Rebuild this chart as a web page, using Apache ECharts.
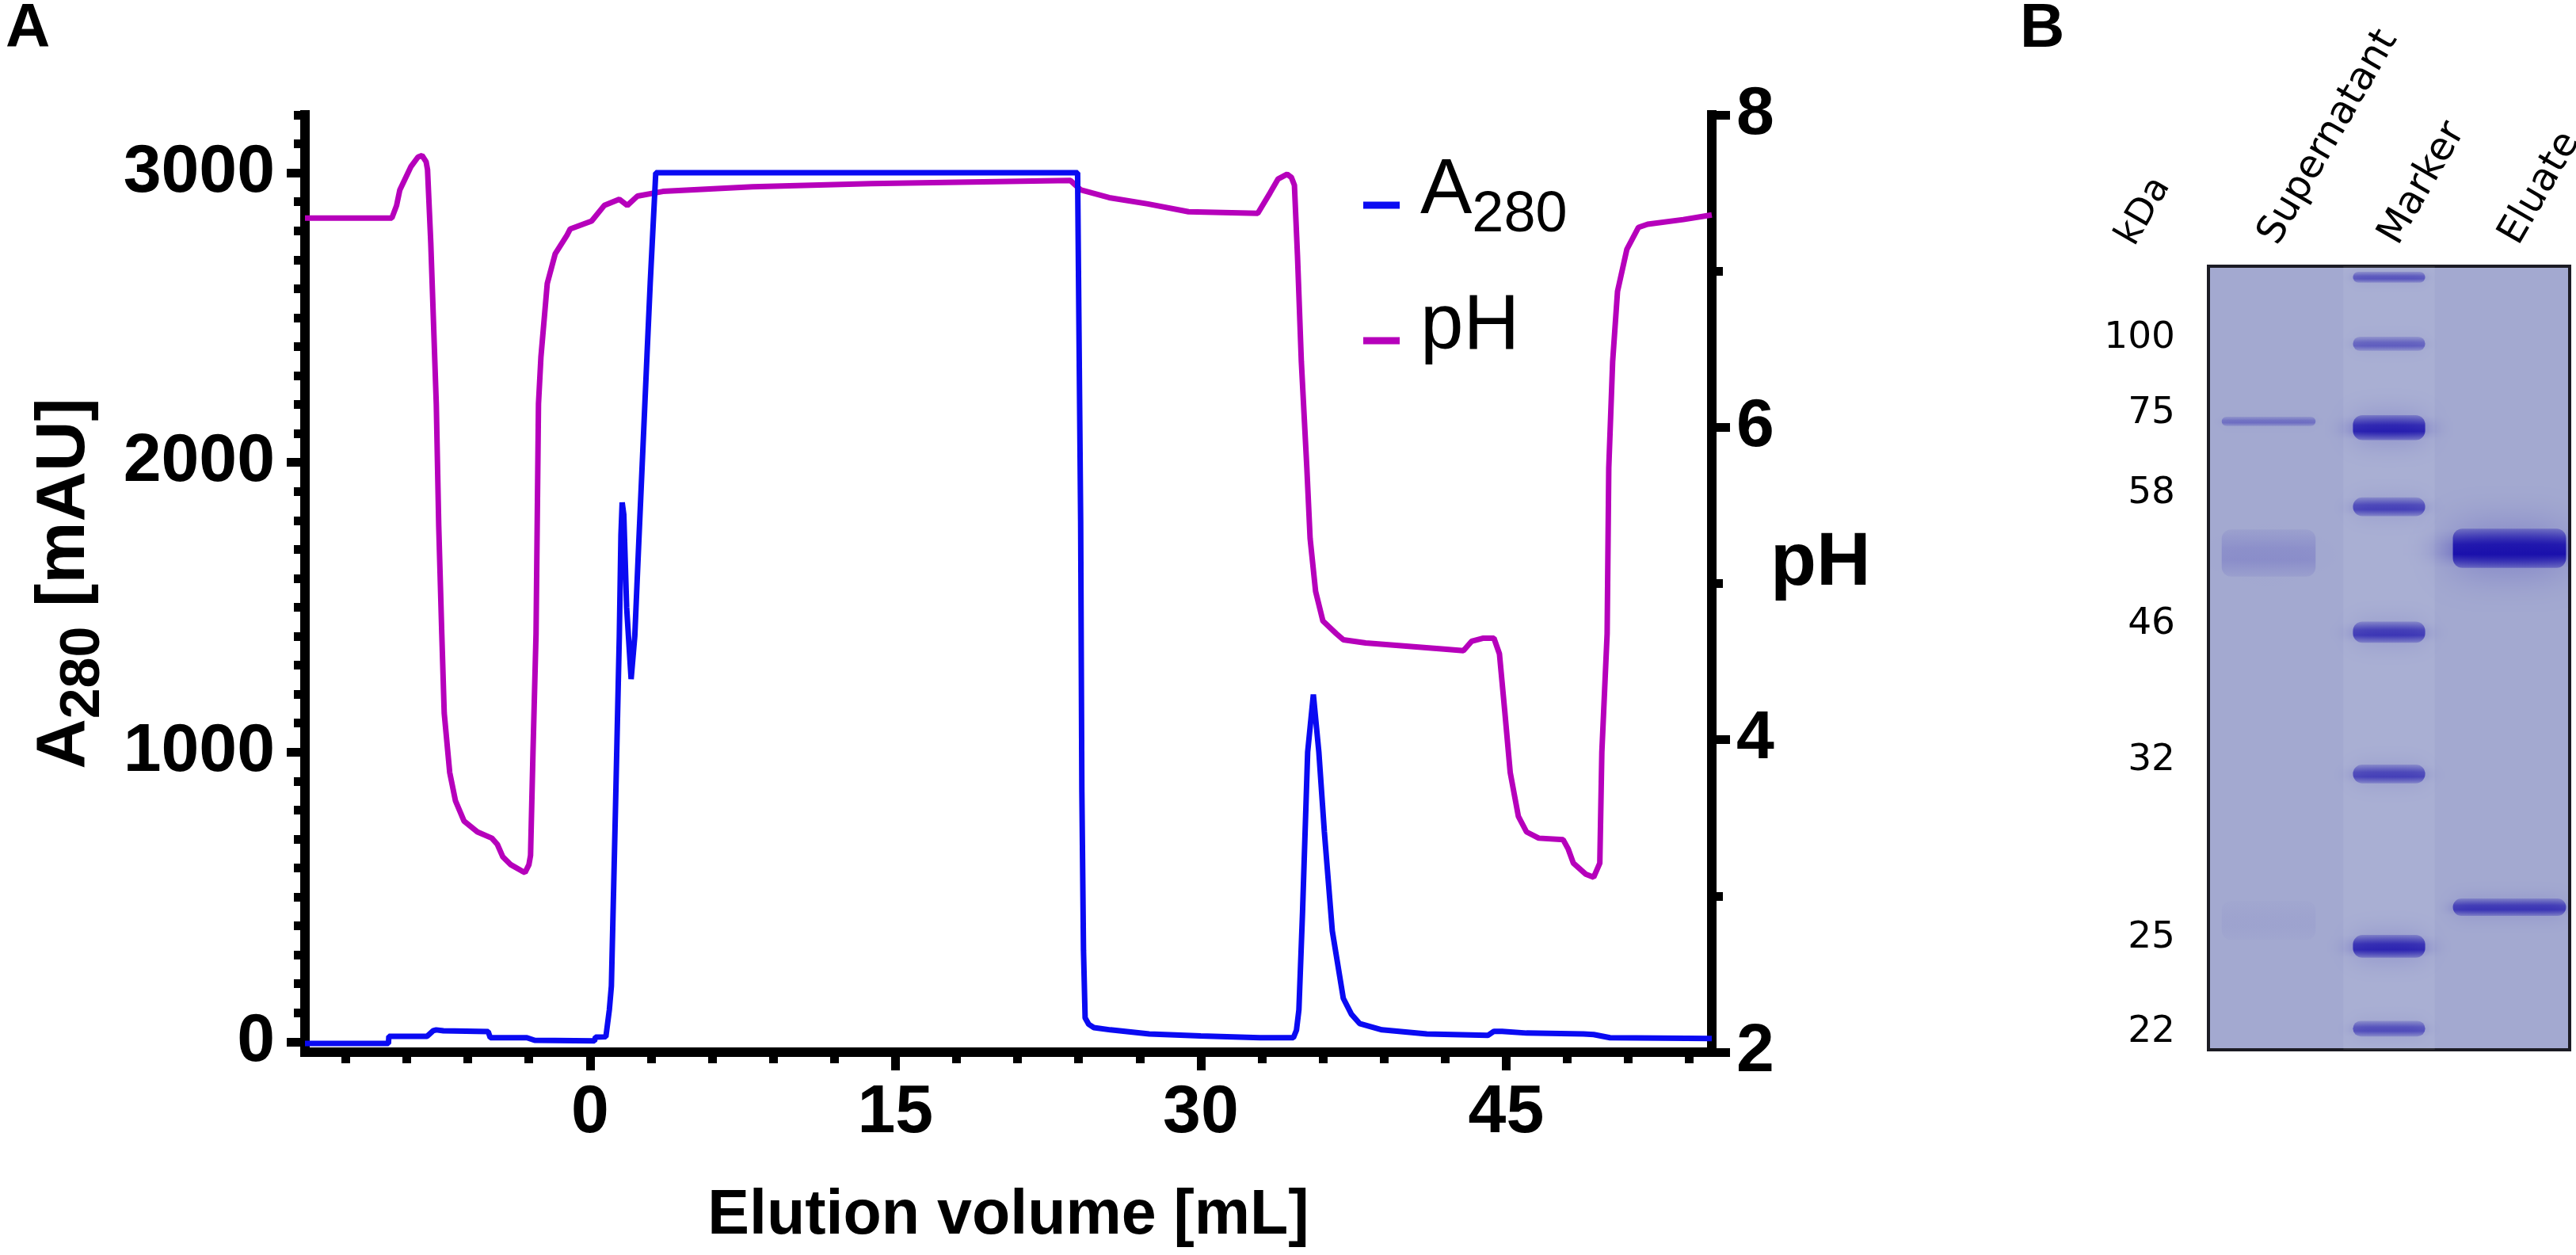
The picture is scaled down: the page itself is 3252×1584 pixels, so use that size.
<!DOCTYPE html>
<html>
<head>
<meta charset="utf-8">
<title>Elution profile and SDS-PAGE</title>
<script src="https://cdn.jsdelivr.net/npm/echarts@6/dist/echarts.min.js"></script>
<style>
  html, body { margin: 0; padding: 0; background: #fff; }
  #main { width: 3252px; height: 1584px; }
</style>
</head>
<body>
<div id="main"></div>
<script>
// ---- panel A: chromatogram ----
// elution volume [mL] and A280 [mAU]
var a280Vol = [-14, -9.9, -9.88, -8.0, -7.7, -7.55, -7.2, -5.0, -4.9, -3.1, -2.72, 0.22, 0.27, 0.78, 0.95, 1.05,
  1.25, 1.44, 1.52, 1.58, 1.66, 1.8, 2.02, 2.2, 2.4, 2.8, 2.96, 3.23, 23.95, 24.1, 24.16, 24.24, 24.32, 24.5,
  24.75, 25.56, 27.47, 30.0, 32.9, 34.55, 34.7, 34.82, 35.0, 35.25, 35.53, 35.8, 36.07, 36.46, 37.0, 37.4,
  37.8, 38.9, 41.1, 44.1, 44.4, 44.8, 46.0, 48.8, 49.3, 50.1, 55.1];
var a280Val = [-6, -6, 19, 19, 38, 41, 38, 35, 14, 14, 5, 3, 16, 17, 110, 192,
  800, 1400, 1750, 1862, 1820, 1500, 1252, 1400, 1730, 2370, 2622, 3000, 3000, 1800, 862, 315, 82, 60,
  49, 41, 27, 20, 14, 14, 40, 110, 450, 1000, 1199, 1000, 725, 383, 150, 95,
  63, 41, 27, 22, 36, 36, 30, 27, 25, 14, 11];

// elution volume [mL] and pH
var phVol = [-14, -9.73, -9.5, -9.34, -8.79, -8.45, -8.25, -8.05, -7.98, -7.82, -7.55, -7.43, -7.28, -7.16,
  -6.89, -6.61, -6.19, -5.53, -4.82, -4.55, -4.28, -3.89, -3.35, -3.19, -3.0, -2.92, -2.8, -2.65, -2.53,
  -2.41, -2.1, -1.71, -1.13, -0.97, 0.08, 0.7, 1.44, 1.83, 2.33, 3.58, 7.98, 13.8, 23.6, 24.1, 25.5, 27.4,
  29.4, 32.8, 33.4, 33.8, 34.24, 34.45, 34.6, 34.75, 34.94, 35.21, 35.37, 35.64, 36.0, 36.65, 37.0, 38.1,
  41.95, 42.9, 43.3, 43.85, 44.4, 44.67, 44.94, 45.2, 45.6, 46.0, 46.6, 47.8, 48.05, 48.3, 48.9, 49.3,
  49.6, 49.7, 49.96, 50.04, 50.23, 50.47, 50.93, 51.5, 51.95, 53.7, 55.1];
var phVal = [7.34, 7.34, 7.42, 7.52, 7.67, 7.73, 7.74, 7.70, 7.65, 7.18, 6.15, 5.37, 4.68, 4.17,
  3.79, 3.61, 3.48, 3.41, 3.37, 3.33, 3.25, 3.20, 3.16, 3.15, 3.20, 3.26, 3.92, 4.68, 6.15,
  6.45, 6.92, 7.11, 7.23, 7.27, 7.32, 7.42, 7.46, 7.42, 7.48, 7.51, 7.54, 7.56, 7.58, 7.52, 7.47, 7.43,
  7.38, 7.37, 7.50, 7.59, 7.62, 7.60, 7.55, 7.10, 6.42, 5.74, 5.29, 4.95, 4.76, 4.68, 4.64, 4.62,
  4.58, 4.57, 4.63, 4.65, 4.65, 4.55, 4.17, 3.79, 3.51, 3.41, 3.37, 3.36, 3.30, 3.21, 3.14, 3.12,
  3.21, 3.92, 4.68, 5.74, 6.42, 6.87, 7.14, 7.28, 7.30, 7.33, 7.36];

// ticks
var volMajor = [0, 15, 30, 45];
var volMinor = [-12, -9, -6, -3, 3, 6, 9, 12, 18, 21, 24, 27, 33, 36, 39, 42, 48, 51, 54];
var a280Major = [0, 1000, 2000, 3000];
var a280MinorStep = 100;
var phMajor = [2, 4, 6, 8];
var phMinor = [3, 5, 7];

// ---- panel B: SDS-PAGE gel ----
var lanes = ['Supernatant', 'Marker', 'Eluate'];
var kDaLabels = [100, 75, 58, 46, 32, 25, 22];
var kDaLabelPos = [0.092, 0.188, 0.290, 0.457, 0.631, 0.857, 0.978]; // relative migration
// bands: relative migration, band thickness, stain density (0..1)
var supernatantPos = [0.198, 0.366, 0.835];
var supernatantThick = [0.012, 0.06, 0.05];
var supernatantDensity = [0.35, 0.17, 0.04];
var markerPos = [0.014, 0.099, 0.206, 0.307, 0.467, 0.648, 0.868, 0.973];
var markerThick = [0.014, 0.018, 0.032, 0.024, 0.027, 0.024, 0.029, 0.02];
var markerDensity = [0.5, 0.45, 0.85, 0.62, 0.68, 0.62, 0.8, 0.55];
var eluatePos = [0.360, 0.818];
var eluateThick = [0.05, 0.022];
var eluateDensity = [1.0, 0.68];

(function () {
  var myChart = echarts.init(document.getElementById('main'));

  var FONT = 'Liberation Sans, Arial, sans-serif';
  var GEL_FONT = 'DejaVu Sans, sans-serif';
  var BLUE = '#0a0af2';
  var MAGENTA = '#b600bb';
  var INK = '#000';

  function pairs(xs, ys) {
    return xs.map(function (x, i) { return [x, ys[i]]; });
  }

  var a280Minor = [];
  for (var v = 0; v <= 3200; v += a280MinorStep) {
    if (v % 1000 !== 0) a280Minor.push(v);
  }

  // band list for the custom series: [lane, position, thickness, density]
  var bands = [];
  [[supernatantPos, supernatantThick, supernatantDensity],
   [markerPos, markerThick, markerDensity],
   [eluatePos, eluateThick, eluateDensity]].forEach(function (lane, li) {
    lane[0].forEach(function (p, i) {
      bands.push([li, p, lane[1][i], lane[2][i]]);
    });
  });
  // how much of the lane a band covers
  var bandWidthFrac = [0.78, 0.6, 0.94];

  // soft-edged stained band
  function renderBand(params, api) {
    var lane = api.value(0);
    var c = api.coord([lane, api.value(1)]);
    var laneW = api.size([1, 0])[0];
    var h = Math.abs(api.size([0, api.value(2)])[1]);
    var w = laneW * bandWidthFrac[lane];
    var a = api.value(3);
    var col = function (k) { return 'rgba(26,16,172,' + (a * k).toFixed(3) + ')'; };
    return {
      type: 'rect',
      shape: { x: c[0] - w / 2, y: c[1] - h / 2, width: w, height: h, r: Math.min(h / 2, 12) },
      style: {
        fill: new echarts.graphic.LinearGradient(0, 0, 0, 1, [
          { offset: 0, color: col(0.3) },
          { offset: 0.4, color: col(0.9) },
          { offset: 0.65, color: col(1) },
          { offset: 1, color: col(0.35) }
        ]),
        shadowBlur: Math.max(14, h * 1.1),
        shadowColor: col(0.9)
      }
    };
  }

  var plainNumber = function (val) { return String(val); };
  var thickLine = { color: INK, width: 12, cap: 'square' };
  var tickBold = { color: INK, width: 11 };
  var labelBold = { color: INK, fontFamily: FONT, fontWeight: 'bold', fontSize: 86, formatter: plainNumber };

  var option = {
    animation: false,
    backgroundColor: '#fff',
    graphic: [
      { type: 'text', x: 7, y: 37, style: { text: 'A', fontFamily: FONT, fontWeight: 'bold', fontSize: 78, fill: INK, align: 'left', verticalAlign: 'middle' } },
      { type: 'text', x: 2550, y: 37, style: { text: 'B', fontFamily: FONT, fontWeight: 'bold', fontSize: 78, fill: INK, align: 'left', verticalAlign: 'middle' } },
      { type: 'text', x: 2684, y: 306, rotation: 60 * Math.PI / 180, style: { text: 'kDa', fontFamily: GEL_FONT, fontSize: 46, fill: INK, align: 'left', verticalAlign: 'middle' } }
    ],
    legend: {
      data: ['A280', 'pH'],
      orient: 'vertical',
      left: 1716,
      top: 188,
      itemWidth: 46,
      itemHeight: 9,
      itemGap: 56,
      icon: 'rect',
      selectedMode: false,
      formatter: function (name) {
        return name === 'A280' ? '{m|A}{s|280}' : '{m|pH}';
      },
      textStyle: {
        color: INK,
        rich: {
          m: { fontFamily: FONT, fontSize: 98, lineHeight: 98, padding: [0, 0, 17, 21], verticalAlign: 'bottom', color: INK },
          s: { fontFamily: FONT, fontSize: 72, lineHeight: 72, verticalAlign: 'bottom', color: INK }
        }
      }
    },
    grid: [
      { left: 385, top: 145, width: 1776, height: 1183, outerBoundsMode: 'none' },
      { left: 2788, top: 336, width: 456, height: 989, outerBoundsMode: 'none', show: true,
        backgroundColor: '#a3a9d0', borderColor: '#1c1c24', borderWidth: 4 }
    ],
    xAxis: [
      { // elution volume, major ticks + labels
        type: 'value', gridIndex: 0, position: 'bottom', min: -14, max: 55.1,
        axisLine: { show: true, onZero: false, lineStyle: thickLine },
        axisTick: { show: true, customValues: volMajor, length: 23, lineStyle: tickBold },
        axisLabel: Object.assign({ customValues: volMajor, margin: 34 }, labelBold),
        splitLine: { show: false },
        name: 'Elution volume [mL]', nameLocation: 'middle', nameGap: 168, nameMoveOverlap: false,
        nameTextStyle: { color: INK, fontFamily: FONT, fontWeight: 'bold', fontSize: 79 }
      },
      { // minor ticks
        type: 'value', gridIndex: 0, position: 'bottom', min: -14, max: 55.1,
        axisLine: { show: false, onZero: false },
        axisTick: { show: true, customValues: volMinor, length: 14, lineStyle: tickBold },
        axisLabel: { show: false },
        splitLine: { show: false }
      },
      { // gel lanes
        type: 'category', gridIndex: 1, position: 'top', data: lanes,
        axisLine: { show: false }, axisTick: { show: false }, splitLine: { show: false },
        axisLabel: { rotate: 60, margin: 31, interval: 0, color: INK, fontFamily: GEL_FONT, fontSize: 49 }
      }
    ],
    yAxis: [
      { // A280
        type: 'value', gridIndex: 0, position: 'left', min: -36, max: 3200,
        axisLine: { show: true, onZero: false, lineStyle: thickLine },
        axisTick: { show: true, customValues: a280Major, length: 23, lineStyle: tickBold },
        axisLabel: Object.assign({ customValues: a280Major, margin: 38 }, labelBold),
        splitLine: { show: false },
        name: '{m|A}{s|280}{m| [mAU]}', nameLocation: 'middle', nameGap: 244, nameMoveOverlap: false,
        nameTextStyle: {
          rich: {
            m: { fontFamily: FONT, fontWeight: 'bold', fontSize: 88, lineHeight: 88, padding: [0, 0, 15, 0], verticalAlign: 'bottom', color: INK },
            s: { fontFamily: FONT, fontWeight: 'bold', fontSize: 70, lineHeight: 70, verticalAlign: 'bottom', color: INK }
          }
        }
      },
      { // A280 minor ticks
        type: 'value', gridIndex: 0, position: 'left', min: -36, max: 3200,
        axisLine: { show: false, onZero: false },
        axisTick: { show: true, customValues: a280Minor, length: 14, lineStyle: tickBold },
        axisLabel: { show: false },
        splitLine: { show: false }
      },
      { // pH
        type: 'value', gridIndex: 0, position: 'right', min: 2, max: 8,
        axisLine: { show: true, onZero: false, lineStyle: thickLine },
        axisTick: { show: true, customValues: phMajor, length: 23, lineStyle: tickBold },
        axisLabel: Object.assign({ customValues: phMajor, margin: 31 }, labelBold),
        splitLine: { show: false },
        name: '{p|pH}', nameLocation: 'middle', nameRotate: 0, nameGap: 74, nameMoveOverlap: false,
        nameTextStyle: {
          rich: {
            p: { fontFamily: FONT, fontWeight: 'bold', fontSize: 95, lineHeight: 95, padding: [0, 0, 50, 0], color: INK }
          }
        }
      },
      { // pH minor ticks
        type: 'value', gridIndex: 0, position: 'right', min: 2, max: 8,
        axisLine: { show: false, onZero: false },
        axisTick: { show: true, customValues: phMinor, length: 14, lineStyle: tickBold },
        axisLabel: { show: false },
        splitLine: { show: false }
      },
      { // gel migration, labelled with marker sizes
        type: 'value', gridIndex: 1, min: 0, max: 1, inverse: true,
        axisLine: { show: false, onZero: false }, axisTick: { show: false }, splitLine: { show: false },
        axisLabel: {
          customValues: kDaLabelPos, margin: 42, color: INK, fontFamily: GEL_FONT, fontSize: 47,
          formatter: function (val) {
            var i = kDaLabelPos.indexOf(val);
            return i >= 0 ? String(kDaLabels[i]) : '';
          }
        }
      }
    ],
    series: [
      {
        name: 'pH', type: 'line', xAxisIndex: 0, yAxisIndex: 2,
        data: pairs(phVol, phVal), showSymbol: false, symbol: 'none', smooth: false,
        lineStyle: { color: MAGENTA, width: 7 }, itemStyle: { color: MAGENTA },
        emphasis: { disabled: true }, z: 2
      },
      {
        name: 'A280', type: 'line', xAxisIndex: 0, yAxisIndex: 0,
        data: pairs(a280Vol, a280Val), showSymbol: false, symbol: 'none', smooth: false,
        lineStyle: { color: BLUE, width: 7 }, itemStyle: { color: BLUE },
        emphasis: { disabled: true }, z: 3
      },
      {
        name: 'lane', type: 'custom', xAxisIndex: 2, yAxisIndex: 4, silent: true,
        // lighter strip behind the marker lane
        data: [[1]],
        renderItem: function (params, api) {
          var c = api.coord([api.value(0), 0]);
          var laneW = api.size([1, 0])[0];
          var h = Math.abs(api.size([0, 1])[1]);
          return { type: 'rect', shape: { x: c[0] - laneW * 0.38, y: c[1], width: laneW * 0.76, height: h },
            style: { fill: 'rgba(255,255,255,0.07)' } };
        }
      },
      {
        name: 'bands', type: 'custom', xAxisIndex: 2, yAxisIndex: 4, silent: true, clip: true,
        data: bands, renderItem: renderBand
      }
    ]
  };

  myChart.setOption(option);
  window.addEventListener('resize', function () {
    myChart.resize();
  });
})();
</script>
</body>
</html>
